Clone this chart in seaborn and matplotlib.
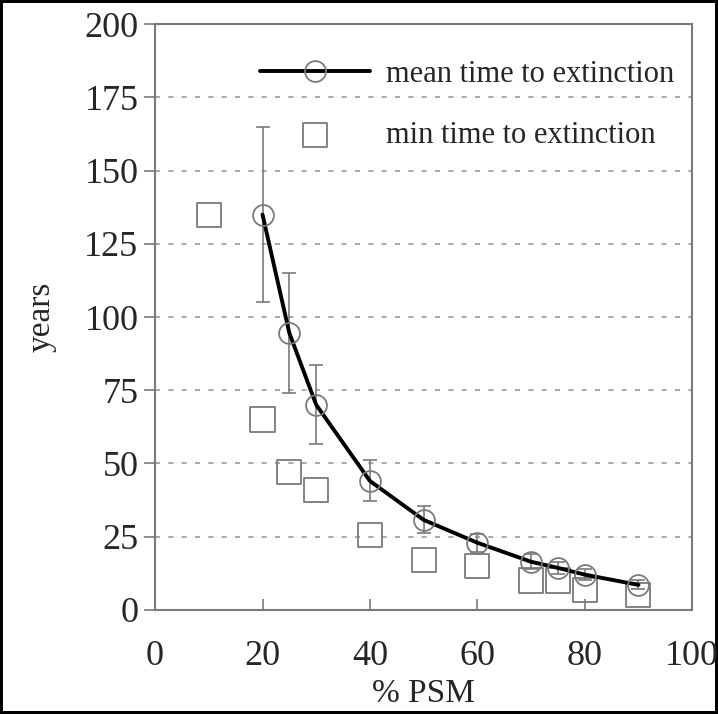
import numpy as np
import pandas as pd
import matplotlib
matplotlib.use('Agg')
import matplotlib.pyplot as plt
import seaborn as sns

# dados
psm_mean = [20, 25, 30, 40, 50, 60, 70, 75, 80, 90]
mean_years = [135, 94.5, 70, 44, 30.7, 22.9, 16.4, 14.3, 12, 8.5]
mean_err = [30, 20.5, 13.5, 7, 4.6, 3, 2.5, 2, 2, 1.5]

psm_min = [10, 20, 25, 30, 40, 50, 60, 70, 75, 80, 90]
min_years = [135, 65, 47, 41, 25.6, 17, 15, 10, 10, 6.8, 5]

df_mean = pd.DataFrame({'psm': psm_mean, 'years': mean_years, 'err': mean_err})
df_min = pd.DataFrame({'psm': psm_min, 'years': min_years})

sns.set_style('ticks')
plt.rcParams['font.family'] = ['Liberation Serif', 'DejaVu Serif']

gray = '#7a7a7a'

fig = plt.figure(figsize=(7.18, 7.14), dpi=100)
ax = fig.add_axes([0.216, 0.146, 0.748, 0.82])

# grade horizontal tracejada
for yv in range(25, 201, 25):
    ax.axhline(yv, color='#9a9a9a', lw=1.2, ls=(0, (3, 5)), zorder=0)

ax.errorbar(df_mean['psm'], df_mean['years'], yerr=df_mean['err'], fmt='none',
            ecolor=gray, elinewidth=1.2, capsize=5, capthick=1.2, zorder=2)

sns.scatterplot(data=df_min, x='psm', y='years', marker='s', s=300,
                facecolor='none', edgecolor=gray, linewidth=1.3,
                label='min time to extinction', ax=ax, zorder=3)

sns.lineplot(data=df_mean, x='psm', y='years', color='black', lw=2.8,
             marker='o', markersize=15, markerfacecolor='none',
             markeredgecolor=gray, markeredgewidth=1.3,
             label='mean time to extinction', ax=ax, zorder=4)

ax.set_xlim(0, 100)
ax.set_ylim(0, 200)
ax.set_xticks(range(0, 101, 20))
ax.set_yticks(range(0, 201, 25))
ax.tick_params(axis='x', direction='in', length=8, width=1.2, color=gray,
               labelsize=26, pad=22)
ax.tick_params(axis='y', direction='out', length=8, width=1.2, color=gray,
               labelsize=26, pad=4)
for s in ax.spines.values():
    s.set_color(gray)
    s.set_linewidth(1.5)

ax.set_xlabel('% PSM', fontsize=24, labelpad=4)
ax.set_ylabel('years', fontsize=24, labelpad=20)

h, l = ax.get_legend_handles_labels()
ax.legend(h[::-1], l[::-1], loc='upper right', bbox_to_anchor=(1.0, 0.97),
          frameon=False, fontsize=22,
          handlelength=3.6, handletextpad=0.5, labelspacing=1.05,
          borderaxespad=0.1, borderpad=0.5)

fig.patch.set_edgecolor('black')
fig.patch.set_linewidth(3)

plt.savefig('out.png', dpi=100, edgecolor=fig.get_edgecolor())
